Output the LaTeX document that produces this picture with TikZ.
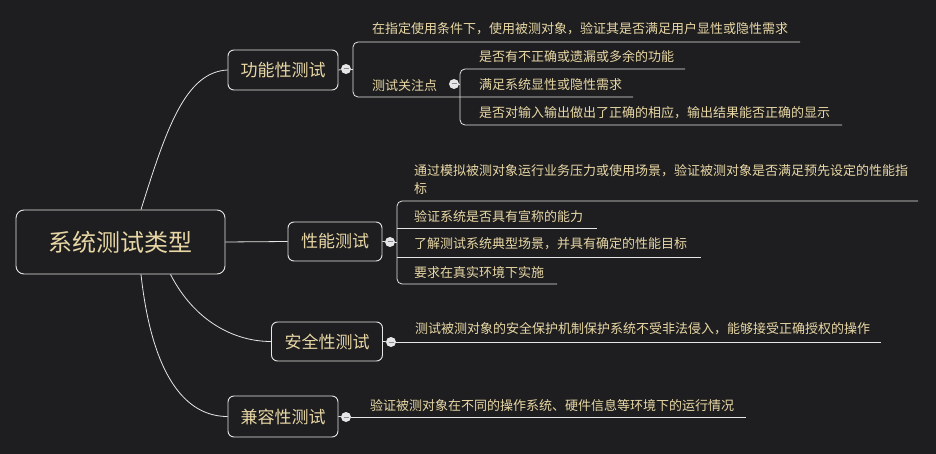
\documentclass[tikz,border=0pt]{standalone}
\usepackage{fontspec}
\newfontfamily\cjk{Noto Sans CJK SC}
\definecolor{bg}{HTML}{1E1E20}
\definecolor{txt}{HTML}{E8D7A5}
\definecolor{ln}{HTML}{E6E6E6}
\definecolor{knobmark}{HTML}{8A8A9A}
\begin{document}
\begin{tikzpicture}[x=1pt,y=-1pt,
 box/.style={draw=ln, line width=0.9pt, rounded corners=6pt, text=txt, font=\cjk\fontsize{17}{20}\selectfont, inner sep=0},
 leaf/.style={anchor=west, inner sep=0, text=txt, font=\cjk\fontsize{13}{18}\selectfont, align=left},
 wire/.style={draw=ln, line width=0.8pt},
 knob/.style={circle, fill=ln, minimum size=10pt, inner sep=0,
   path picture={\draw[knobmark, line width=1pt] ([xshift=-2.5pt]path picture bounding box.center) -- ([xshift=2.5pt]path picture bounding box.center);}}]
\fill[bg] (0,0) rectangle (936,454);
\useasboundingbox (0,0) rectangle (936,454);

% main nodes
\node[box, minimum width=209pt, minimum height=64pt, rounded corners=8pt, font=\cjk\fontsize{24}{28}\selectfont] (root) at (120.5,242) {系统测试类型};
\node[box, minimum width=110pt, minimum height=40pt] (f1) at (283,70) {功能性测试};
\node[box, minimum width=94pt, minimum height=39pt] (f2) at (335,241.5) {性能测试};
\node[box, minimum width=111pt, minimum height=39pt] (f3) at (327,341.5) {安全性测试};
\node[box, minimum width=110pt, minimum height=41pt] (f4) at (283,416.5) {兼容性测试};

% root connectors
\draw[wire] ([xshift=20.5pt]root.north) .. controls (166,130) and (185,72) .. (f1.west);
\draw[wire] (root.east) -- (f2.west);
\draw[wire] ([xshift=50pt]root.south) .. controls (195,322) and (235,341.5) .. (f3.west);
\draw[wire] ([xshift=20.5pt]root.south) .. controls (152,375) and (185,416.5) .. (f4.west);

% knobs
\node[knob] (c1) at (346,69) {};
\node[knob] (c2) at (390,242) {};
\node[knob] (c3) at (391,342) {};
\node[knob] (c4) at (346,417) {};

% functional branch
\coordinate (b1) at (353,69);
\coordinate (b5) at (460,84);
\draw[wire] (f1.east) -- (c1);
\draw[wire] (c1.east) -- (b1);
\draw[wire, rounded corners=5pt] (800,42) -- (353,42) -- (353,97) -- (633,97);
\node[leaf] (t11) at (372,29) {在指定使用条件下，使用被测对象，验证其是否满足用户显性或隐性需求};
\node[leaf] (t12) at (372,86) {测试关注点};
\node[knob] (c5) at (454,84) {};
\draw[wire] (c5.east) -- (b5);
\draw[wire, rounded corners=5pt] (685,69) -- (460,69) -- (460,125) -- (842,125);
\node[leaf] (t121) at (479,57) {是否有不正确或遗漏或多余的功能};
\node[leaf] (t122) at (479,85) {满足系统显性或隐性需求};
\node[leaf] (t123) at (479,113) {是否对输入输出做出了正确的相应，输出结果能否正确的显示};

% performance branch
\coordinate (b2) at (397,242);
\draw[wire] (f2.east) -- (c2);
\draw[wire] (c2.east) -- (b2);
\draw[wire, rounded corners=5pt] (918,201) -- (397,201) -- (397,284) -- (557,284);
\draw[wire] (397,228) -- (597,228);
\draw[wire] (397,257) -- (701,257);
\node[leaf] (t21) at (414,180) {通过模拟被测对象运行业务压力或使用场景，验证被测对象是否满足预先设定的性能指\\标};
\node[leaf] (t22) at (414,217) {验证系统是否具有宣称的能力};
\node[leaf] (t23) at (414,244) {了解测试系统典型场景，并具有确定的性能目标};
\node[leaf] (t24) at (414,273) {要求在真实环境下实施};

% security branch
\coordinate (e3) at (881,342);
\draw[wire] (f3.east) -- (c3);
\draw[wire] (c3.east) -- (e3);
\node[leaf] (t31) at (415,329) {测试被测对象的安全保护机制保护系统不受非法侵入，能够接受正确授权的操作};

% compatibility branch
\coordinate (e4) at (746,417);
\draw[wire] (f4.east) -- (c4);
\draw[wire] (c4.east) -- (e4);
\node[leaf] (t41) at (370,406) {验证被测对象在不同的操作系统、硬件信息等环境下的运行情况};
\end{tikzpicture}
\end{document}
